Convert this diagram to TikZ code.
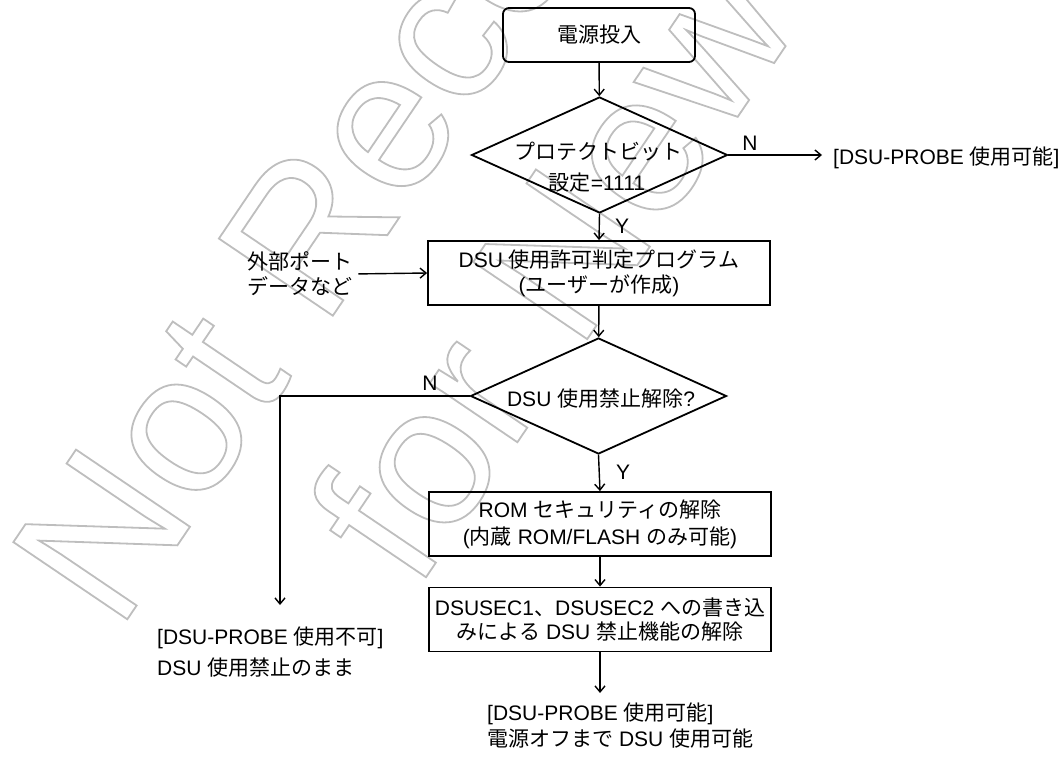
\documentclass[tikz,border=0pt]{standalone}
\usepackage{fontspec}
\setmainfont{Liberation Sans}
\newfontfamily\jpfont{Noto Sans CJK JP}
\newcommand{\jp}[1]{{\jpfont #1}}
\newcommand{\hollowtext}[1]{\special{pdf:literal direct 1 Tr 1.8 w}#1\special{pdf:literal direct 0 Tr}}
\usetikzlibrary{shapes.geometric,arrows.meta}
\definecolor{wmgray}{RGB}{190,190,190}
\begin{document}
\begin{tikzpicture}[x=1pt,y=-1pt,
  every node/.style={font=\fontsize{21}{25}\selectfont, inner sep=0pt},
  procbox/.style={draw, line width=1.8pt, minimum width=342pt, minimum height=64pt, align=center},
  startbox/.style={draw, line width=1.8pt, rounded corners=6pt, minimum width=192pt, minimum height=54pt},
  decision/.style={draw, diamond, line width=1.8pt, minimum width=256pt, minimum height=116pt},
  conn/.style={line width=1.4pt, -{Straight Barb[length=6pt,width=10pt]}},
  freetext/.style={anchor=west},
  wmark/.style={rotate=55.9, anchor=base west, text=wmgray, font=\fontsize{200}{200}\selectfont}
]
\useasboundingbox (0,0) rectangle (1064,760);
% watermark
\begin{scope}
\clip (0,0) rectangle (1064,760);
\node[wmark] (wm1) at (118,633) {\hollowtext{Not Recommended}};
\node[wmark] (wm2) at (416,592) {\hollowtext{for New Design}};
\end{scope}

% shapes
\node[startbox] (start) at (599,35) {\jp{電源投入}};
\node[decision] (d1) at (599.5,155) {};
\node (d1a) at (598,152) {\jp{プロテクトビット}};
\node (d1b) at (597,183) {\jp{設定}=1111};
\node[procbox] (box2) at (599,273) {DSU \jp{使用許可判定プログラム}\\(\jp{ユーザーが作成})};
\node[decision] (d2) at (598.5,396) {};
\node (d2a) at (601,399) {DSU \jp{使用禁止解除}?};
\node[procbox, font=\fontsize{21}{27}\selectfont] (box3) at (600,524) {ROM \jp{セキュリティの解除}\\(\jp{内蔵} ROM/FLASH \jp{のみ可能})};
\node[procbox, font=\fontsize{21}{24}\selectfont] (box4) at (600,619.5) {DSUSEC1\jp{、}DSUSEC2 \jp{への書き込}\\\jp{みによる} DSU \jp{禁止機能の解除}};

% free texts
\node[anchor=west, align=left] (ext) at (247,274) {\jp{外部ポート}\\\jp{データなど}};
\node[freetext] (okA) at (833,158) {[DSU-PROBE \jp{使用可能}]};
\node[freetext] (ngA) at (157,638) {[DSU-PROBE \jp{使用不可}]};
\node[freetext] (ngB) at (157,668) {DSU \jp{使用禁止のまま}};
\node[freetext] (okB) at (487,714) {[DSU-PROBE \jp{使用可能}]};
\node[freetext] (okC) at (487,739) {\jp{電源オフまで} DSU \jp{使用可能}};

% labels
\node (n1) at (750,143) {N};
\node (y1) at (622,226) {Y};
\node (n2) at (430,383) {N};
\node (y2) at (623,472) {Y};

% connector ends
\coordinate (e1) at (822,155);
\coordinate (e2) at (280,605);
\coordinate (e3) at (600,693);

% connectors
\draw[conn] (start) -- (d1);
\draw[conn] (d1) -- (e1);
\draw[conn] (d1.south) -- (box2.north);
\draw[conn, shorten <=6pt] (ext.east) -- (box2.west);
\draw[conn] (box2) -- (d2);
\draw[conn] (d2.west) -| (e2);
\draw[conn] (d2.south) -- (box3.north);
\draw[conn] (box3) -- (box4);
\draw[conn] (box4.south) -- (e3);
\end{tikzpicture}
\end{document}
